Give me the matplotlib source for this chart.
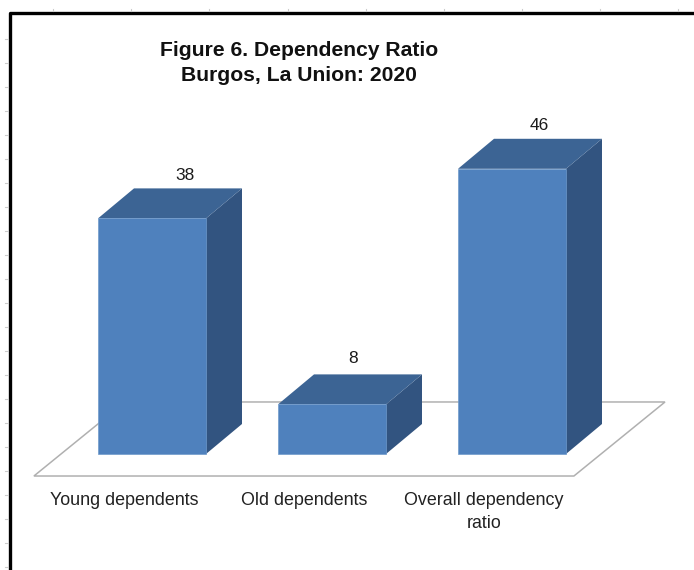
import matplotlib
matplotlib.use("Agg")
import matplotlib.pyplot as plt
from matplotlib.patches import Polygon
from matplotlib.lines import Line2D

categories = ["Young dependents", "Old dependents", "Overall dependency\nratio"]
values = [38, 8, 46]

plt.rcParams['font.family'] = ['Liberation Sans', 'DejaVu Sans']

W, H = 694, 570
fig = plt.figure(figsize=(W / 100, H / 100), dpi=100)
ax = fig.add_axes([0, 0, 1, 1])
ax.set_xlim(-152 / 180, (W - 152) / 180)
ax.set_ylim((454 - H) / 6.2, 454 / 6.2)
ax.axis('off')

bar_w = 0.6
dx, dy = 0.2, 4.84
label_dx = [0.185, 0.117, 0.15]
label_dy = [2.1, 2.5, 2.1]

# floor of the 3d chart
floor_l, floor_r, floor_y = -0.656, 2.344, -3.55
floor = [(floor_l, floor_y), (floor_r, floor_y),
         (floor_r + 0.506, floor_y + 11.94), (floor_l + 0.506, floor_y + 11.94)]
ax.add_patch(Polygon(floor, closed=True, fc='white', ec='#b0b0b0', lw=1.1, zorder=1))

# bars, drawn as three faces
for i, v in enumerate(values):
    x0 = i - bar_w / 2
    x1 = i + bar_w / 2
    ax.add_patch(Polygon([(x1, 0), (x1 + dx, dy), (x1 + dx, v + dy), (x1, v)],
                         fc='#325480', ec='none', zorder=3))
    ax.add_patch(Polygon([(x0, v), (x1, v), (x1 + dx, v + dy), (x0 + dx, v + dy)],
                         fc='#3c6494', ec='none', zorder=3))
    ax.bar(i, v, width=bar_w, color='#4f81bd', edgecolor='#6f9acb', linewidth=0.5, zorder=4)
    ax.text(i + label_dx[i], v + dy + label_dy[i], str(v), ha='center', va='center',
            fontsize=12.5, color='#1a1a1a')
    ax.text(i - 0.155, -6.07, categories[i], ha='center', va='top', fontsize=12.9,
            color='#222222', linespacing=1.5)

ax.text(0.817, 63.06, "Figure 6. Dependency Ratio\nBurgos, La Union: 2020", ha='center', va='center',
        fontsize=15.2, fontweight='bold', color='#111111', linespacing=1.45)

# black frame, cropped at right and bottom
fig.add_artist(Line2D([10 / W, 10 / W, 1], [0, 1 - 13 / H, 1 - 13 / H], color='black', lw=2.4))

# faint ruler marks outside the frame
for py in range(39, H, 24):
    fig.add_artist(Line2D([5 / W, 8 / W], [1 - py / H] * 2, color='#cccccc', lw=0.8))
for px in [53, 131, 209, 288, 366, 444, 522, 600, 678]:
    fig.add_artist(Line2D([px / W] * 2, [1 - 9 / H, 1 - 11 / H], color='#cccccc', lw=0.8))

fig.savefig("out.png", dpi=100)
